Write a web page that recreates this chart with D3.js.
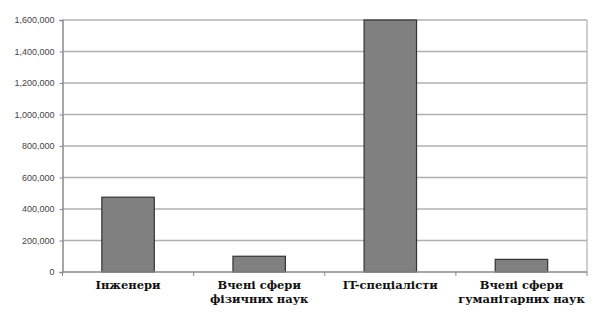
<!DOCTYPE html>
<html><head><meta charset="utf-8">
<script src="https://cdn.jsdelivr.net/npm/d3@7"></script>
<style>body{margin:0;background:#fff}svg{display:block}</style>
</head><body>
<script>
const categories = [["Інженери"], ["Вчені сфери", "фізичних наук"], ["IT-спеціалісти"], ["Вчені сфери", "гуманітарних наук"]];
const values = [475000, 100000, 1600000, 80000];
const tickValues = [0, 200000, 400000, 600000, 800000, 1000000, 1200000, 1400000, 1600000];

const W = 597, H = 318;
const m = {left: 62.5, right: 10, top: 20, bottom: 46};
const svg = d3.select("body").append("svg").attr("width", W).attr("height", H);

const x = d3.scaleBand().domain(d3.range(categories.length)).range([m.left, W - m.right]).paddingInner(0.6).paddingOuter(0.3);
const y = d3.scaleLinear().domain([0, 1600000]).range([H - m.bottom, m.top]);

// gridlines
svg.append("g").selectAll("line").data(tickValues.slice(1)).join("line")
  .attr("x1", m.left).attr("x2", W - m.right)
  .attr("y1", d => y(d)).attr("y2", d => y(d))
  .attr("stroke", "#b0b0b0").attr("stroke-width", 1.5);

// frame right
svg.append("line").attr("x1", W - m.right).attr("x2", W - m.right)
  .attr("y1", y(1600000)).attr("y2", y(0)).attr("stroke", "#b0b0b0").attr("stroke-width", 1.2);

// y axis
const ya = svg.append("g").attr("transform", `translate(${m.left},0)`)
  .call(d3.axisLeft(y).tickValues(tickValues).tickFormat(d3.format(",")).tickSize(3).tickPadding(5));
ya.select(".domain").attr("stroke", "#8a8a8a").attr("stroke-width", 1.5);
ya.selectAll(".tick line").attr("stroke", "#8a8a8a");
ya.selectAll("text").attr("fill", "#444").style("font-family", "'Liberation Sans', Arial, sans-serif").style("font-size", "9px");

// bars
svg.append("g").selectAll("rect").data(values).join("rect")
  .attr("x", (d, i) => x(i)).attr("width", x.bandwidth())
  .attr("y", d => y(d)).attr("height", d => y(0) - y(d))
  .attr("fill", "#808080").attr("stroke", "#333").attr("stroke-width", 1.2);

// x axis
const xa = svg.append("g");
xa.append("line").attr("x1", m.left).attr("x2", W - m.right).attr("y1", y(0)).attr("y2", y(0))
  .attr("stroke", "#8a8a8a").attr("stroke-width", 1.5);
xa.selectAll("line.t").data(d3.range(categories.length + 1)).join("line").attr("class", "t")
  .attr("x1", i => m.left + i * (W - m.right - m.left) / categories.length)
  .attr("x2", i => m.left + i * (W - m.right - m.left) / categories.length)
  .attr("y1", y(0)).attr("y2", y(0) + 4).attr("stroke", "#8a8a8a");

const lab = svg.append("g").selectAll("text").data(categories).join("text")
  .attr("text-anchor", "middle")
  .attr("x", (d, i) => x(i) + x.bandwidth() / 2)
  .attr("y", 289)
  .attr("font-family", "'DejaVu Serif', serif")
  .attr("font-weight", "bold").attr("font-size", "11.5px").attr("fill", "#111");
lab.selectAll("tspan").data(d => d).join("tspan")
  .attr("x", function() { return this.parentNode.getAttribute("x"); })
  .attr("dy", (d, i) => i === 0 ? 0 : 13.5)
  .text(d => d);
</script>
</body></html>
